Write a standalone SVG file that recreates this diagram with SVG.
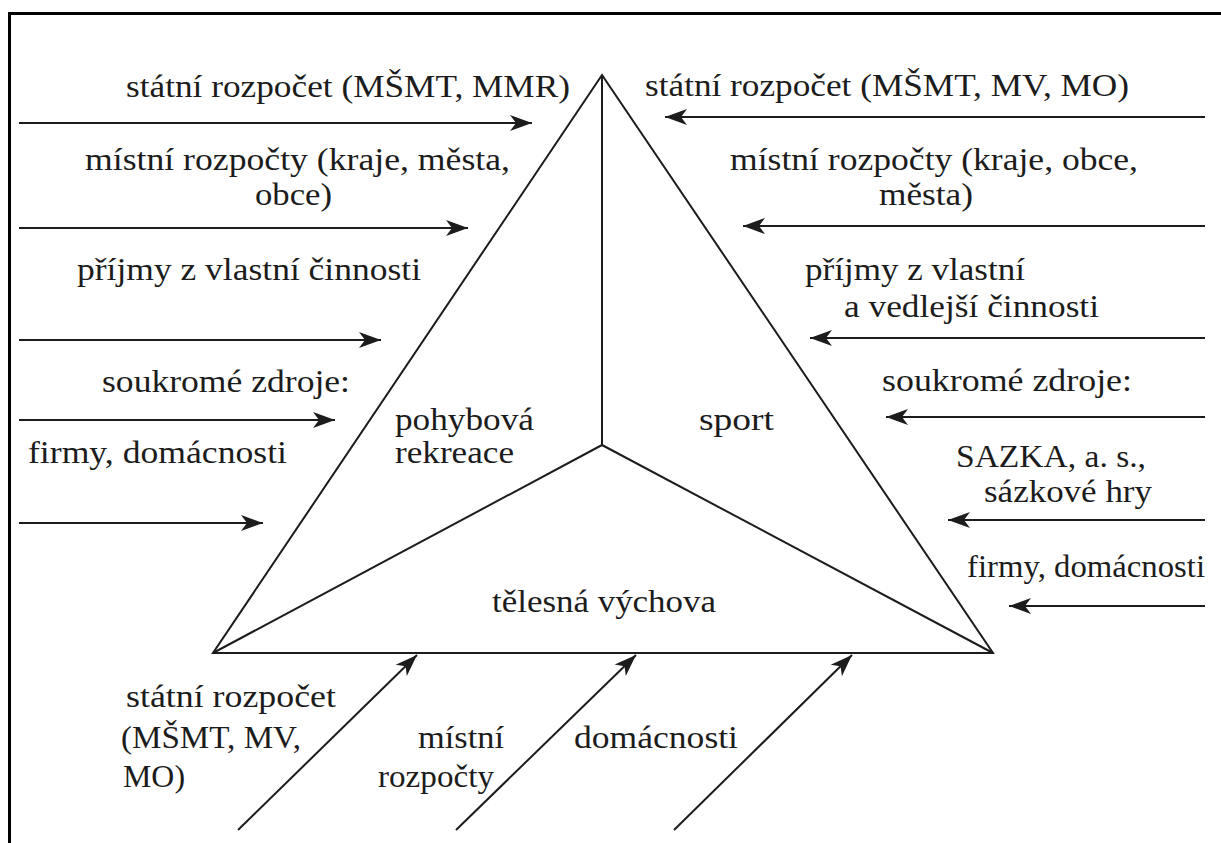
<svg xmlns="http://www.w3.org/2000/svg" width="1221" height="843" viewBox="0 0 1221 843">
<defs>
<style>
.ln{stroke:#1c1c1c;stroke-width:2;fill:none}
.ar{stroke:#1c1c1c;stroke-width:2;fill:none;marker-end:url(#ah)}
</style>
<marker id="ah" markerUnits="userSpaceOnUse" markerWidth="26" markerHeight="18" viewBox="-24 -9 26 18" refX="0" refY="0" orient="auto">
<path d="M0,0 L-22,-8 L-16,0 L-22,8 Z" fill="#1c1c1c"/>
</marker>
</defs>
<rect x="0" y="0" width="1221" height="843" fill="#ffffff"/>
<path d="M9.5,843 V13.5 H1221" fill="none" stroke="#000" stroke-width="3"/>

<g id="triangle">
<path class="ln" d="M602,75 L213,653 L993,653 Z"/>
<path class="ln" d="M602,75 V445 M602,445 L213,653 M602,445 L993,653"/>
</g>

<g style="font-family:'Liberation Serif',serif;font-size:31px" fill="#1c1c1c">
<g id="node-rekreace">
<text x="395" y="430" textLength="139" lengthAdjust="spacingAndGlyphs">pohybová</text>
<text x="395" y="463" textLength="119" lengthAdjust="spacingAndGlyphs">rekreace</text>
</g>
<g id="node-sport">
<text x="699" y="430" textLength="75" lengthAdjust="spacingAndGlyphs">sport</text>
</g>
<g id="node-telesna">
<text x="492" y="612" textLength="224" lengthAdjust="spacingAndGlyphs">tělesná výchova</text>
</g>

<g id="left-sources">
<text x="126" y="97" textLength="444" lengthAdjust="spacingAndGlyphs">státní rozpočet (MŠMT, MMR)</text>
<text x="85" y="170" textLength="425" lengthAdjust="spacingAndGlyphs">místní rozpočty (kraje, města,</text>
<text x="255" y="205" textLength="77" lengthAdjust="spacingAndGlyphs">obce)</text>
<text x="77" y="280" textLength="344" lengthAdjust="spacingAndGlyphs">příjmy z vlastní činnosti</text>
<text x="102" y="392" textLength="248" lengthAdjust="spacingAndGlyphs">soukromé zdroje:</text>
<text x="28" y="463" textLength="259" lengthAdjust="spacingAndGlyphs">firmy, domácnosti</text>
</g>

<g id="right-sources">
<text x="645" y="96" textLength="484" lengthAdjust="spacingAndGlyphs">státní rozpočet (MŠMT, MV, MO)</text>
<text x="730" y="170" textLength="408" lengthAdjust="spacingAndGlyphs">místní rozpočty (kraje, obce,</text>
<text x="879" y="205" textLength="94" lengthAdjust="spacingAndGlyphs">města)</text>
<text x="805" y="280" textLength="220" lengthAdjust="spacingAndGlyphs">příjmy z vlastní</text>
<text x="844" y="317" textLength="255" lengthAdjust="spacingAndGlyphs">a vedlejší činnosti</text>
<text x="882" y="391" textLength="250" lengthAdjust="spacingAndGlyphs">soukromé zdroje:</text>
<text x="956" y="467" textLength="190" lengthAdjust="spacingAndGlyphs">SAZKA, a. s.,</text>
<text x="984" y="502" textLength="168" lengthAdjust="spacingAndGlyphs">sázkové hry</text>
<text x="967" y="577" textLength="238" lengthAdjust="spacingAndGlyphs">firmy, domácnosti</text>
</g>

<g id="bottom-sources">
<text x="126" y="707" textLength="210" lengthAdjust="spacingAndGlyphs">státní rozpočet</text>
<text x="121" y="748" textLength="180" lengthAdjust="spacingAndGlyphs">(MŠMT, MV,</text>
<text x="123" y="787" textLength="62" lengthAdjust="spacingAndGlyphs">MO)</text>
<text x="418" y="748" textLength="86" lengthAdjust="spacingAndGlyphs">místní</text>
<text x="378" y="787" textLength="116" lengthAdjust="spacingAndGlyphs">rozpočty</text>
<text x="574" y="748" textLength="164" lengthAdjust="spacingAndGlyphs">domácnosti</text>
</g>
</g>

<g id="connectors">
<line class="ar" x1="19" y1="123" x2="532" y2="123"/>
<line class="ar" x1="19" y1="228" x2="468" y2="228"/>
<line class="ar" x1="19" y1="340" x2="381" y2="340"/>
<line class="ar" x1="19" y1="420" x2="335" y2="420"/>
<line class="ar" x1="19" y1="523" x2="263" y2="523"/>
<line class="ar" x1="1205" y1="117" x2="665" y2="117"/>
<line class="ar" x1="1205" y1="226" x2="743" y2="226"/>
<line class="ar" x1="1205" y1="338" x2="810" y2="338"/>
<line class="ar" x1="1205" y1="417" x2="886" y2="417"/>
<line class="ar" x1="1205" y1="520" x2="948" y2="520"/>
<line class="ar" x1="1205" y1="606" x2="1009" y2="606"/>
<line class="ar" x1="238" y1="830" x2="417" y2="655"/>
<line class="ar" x1="456" y1="830" x2="636" y2="655"/>
<line class="ar" x1="674" y1="830" x2="852" y2="655"/>
</g>
</svg>
